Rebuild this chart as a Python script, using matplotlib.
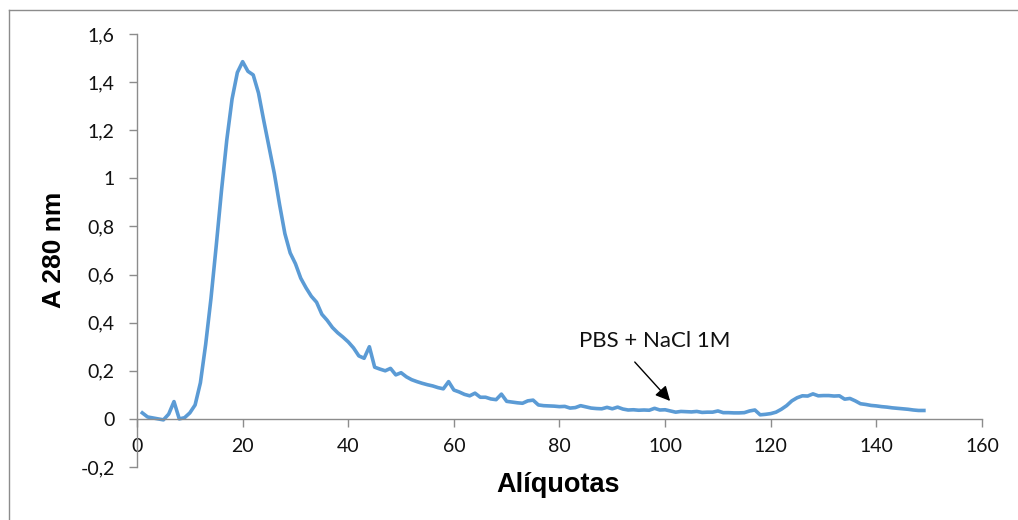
import matplotlib
matplotlib.use("Agg")
import matplotlib.pyplot as plt
from matplotlib.lines import Line2D

# aliquot number and absorbance at 280 nm
aliquotas = list(range(1, 150))
a280 = [
    0.025, 0.008, 0.004, 0.0, -0.004, 0.02, 0.072, 0.0, 0.005, 0.025,
    0.058, 0.15, 0.31, 0.50, 0.72, 0.95, 1.16, 1.33, 1.44, 1.485,
    1.445, 1.43, 1.355, 1.24, 1.13, 1.02, 0.89, 0.77, 0.69, 0.645,
    0.585, 0.545, 0.51, 0.485, 0.435, 0.41, 0.38, 0.358, 0.34, 0.32,
    0.295, 0.262, 0.252, 0.30, 0.215, 0.207, 0.200, 0.21, 0.183, 0.192,
    0.175, 0.163, 0.155, 0.148, 0.142, 0.137, 0.13, 0.125, 0.155, 0.12,
    0.112, 0.102, 0.096, 0.107, 0.09, 0.09, 0.083, 0.08, 0.103, 0.073,
    0.07, 0.067, 0.065, 0.075, 0.078, 0.058, 0.055, 0.054, 0.053, 0.051,
    0.052, 0.045, 0.047, 0.055, 0.05, 0.045, 0.043, 0.042, 0.048, 0.042,
    0.049, 0.041, 0.037, 0.038, 0.036, 0.037, 0.036, 0.044, 0.037, 0.038,
    0.033, 0.028, 0.031, 0.03, 0.029, 0.031, 0.027, 0.028, 0.028, 0.033,
    0.026, 0.026, 0.025, 0.025, 0.026, 0.033, 0.037, 0.017, 0.019, 0.022,
    0.028, 0.04, 0.055, 0.075, 0.088, 0.096, 0.095, 0.104, 0.096, 0.097,
    0.097, 0.095, 0.096, 0.082, 0.085, 0.075, 0.063, 0.06, 0.056, 0.054,
    0.051, 0.049, 0.046, 0.044, 0.042, 0.04, 0.037, 0.035, 0.035,
]
xticks = [0, 20, 40, 60, 80, 100, 120, 140, 160]
yticks = [-0.2, 0, 0.2, 0.4, 0.6, 0.8, 1, 1.2, 1.4, 1.6]
ytick_labels = ["-0,2", "0", "0,2", "0,4", "0,6", "0,8", "1", "1,2", "1,4", "1,6"]

grey = "#8c8c8c"
tick_font = "Lato"

fig = plt.figure(figsize=(10.18, 5.2), dpi=100)
ax = fig.add_axes([0.1346, 0.1019, 0.830, 0.8327])

ax.plot(aliquotas, a280, color="#5B9BD5", lw=2.6, solid_joinstyle="round")

# spine position first: moving it resets the tick objects
for s in ["top", "right"]:
    ax.spines[s].set_visible(False)
ax.spines["bottom"].set_position(("data", 0))
for s in ["left", "bottom"]:
    ax.spines[s].set_color(grey)
    ax.spines[s].set_linewidth(1)

ax.set_xlim(0, 160)
ax.set_ylim(-0.2, 1.6)
ax.set_xticks(xticks)
ax.set_xticklabels([str(t) for t in xticks], family=tick_font, fontsize=14)
ax.set_yticks(yticks)
ax.set_yticklabels(ytick_labels, family=tick_font, fontsize=14)

ax.tick_params(axis="both", direction="out", length=6, width=1, color=grey,
               labelcolor="#111111")
ax.tick_params(axis="y", pad=10)
ax.tick_params(axis="x", pad=8)

fig.text(0.548, 0.068, "Alíquotas", family="Liberation Sans", weight="bold",
         fontsize=19.5, ha="center", va="center")
fig.text(0.053, 0.52, "A 280 nm", family="Liberation Sans", weight="bold",
         fontsize=19, ha="center", va="center", rotation=90)

ax.text(98.1, 0.324, "PBS + NaCl 1M", family=tick_font, fontsize=16,
        ha="center", va="center", color="#111111")
ax.annotate("", xy=(101.3, 0.066), xytext=(93.9, 0.245),
            arrowprops=dict(arrowstyle="-|>", color="black", lw=1,
                            mutation_scale=22))

# chart-area border (top and left visible)
x0, y0 = 9 / 1018, 1 - 10 / 520
fig.add_artist(Line2D([x0, 1], [y0, y0], transform=fig.transFigure,
                      color=grey, lw=1))
fig.add_artist(Line2D([x0, x0], [0, y0], transform=fig.transFigure,
                      color=grey, lw=1))

fig.savefig("out.png", dpi=100)
